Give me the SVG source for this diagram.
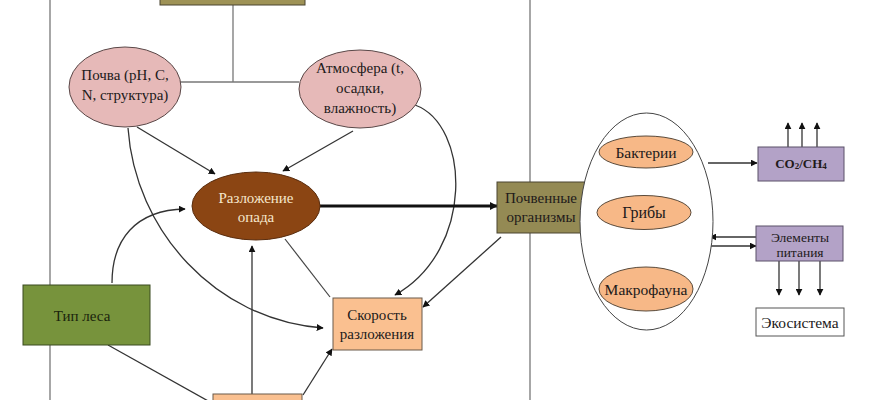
<svg xmlns="http://www.w3.org/2000/svg" width="870" height="400" viewBox="0 0 870 400">
<defs>
<marker id="ah" viewBox="0 0 10 10" refX="9" refY="5" markerWidth="7" markerHeight="7" markerUnits="userSpaceOnUse" orient="auto">
<path d="M0,0 L10,5 L0,10 z" fill="#111"/>
</marker>
<marker id="ahb" viewBox="0 0 10 10" refX="9" refY="5" markerWidth="8" markerHeight="8" markerUnits="userSpaceOnUse" orient="auto">
<path d="M0,0 L10,5 L0,10 z" fill="#111"/>
</marker>
</defs>
<style>
text{font-family:"Liberation Serif","DejaVu Serif",serif;font-size:15px;fill:#221a1a;text-anchor:middle;dominant-baseline:central}
.ln{fill:none;stroke:#777;stroke-width:1.3}
.ar{fill:none;stroke:#333;stroke-width:1.3;marker-end:url(#ah)}
.pink{fill:#E6B9B8;stroke:#5a4848;stroke-width:1}
.peach{fill:#FAC090;stroke:#6a5a4a;stroke-width:1}
.org{fill:#F7B887;stroke:#5a4a3a;stroke-width:1}
.purp{fill:#B3A2C7;stroke:#5a5068;stroke-width:1}
.olive{fill:#948A54;stroke:#4a4530;stroke-width:1}
</style>
<rect width="870" height="400" fill="#fff"/>
<g id="connectors">
<line class="ln" x1="50" y1="0" x2="50" y2="400"/>
<line class="ln" x1="530" y1="0" x2="530" y2="400"/>
<line class="ln" x1="233" y1="5" x2="233" y2="82"/>
<line class="ln" x1="180" y1="82" x2="299" y2="82"/>
<line class="ar" x1="137" y1="127" x2="215" y2="174"/>
<line class="ar" x1="353" y1="131" x2="283" y2="171"/>
<path class="ar" d="M128,128 C135,230 215,320 323,328"/>
<path class="ar" d="M415,105 C470,125 475,250 395,295"/>
<path class="ar" d="M112,283 C112,240 135,210 185,209"/>
<line x1="320" y1="206" x2="497" y2="206" stroke="#111" stroke-width="3" marker-end="url(#ahb)"/>
<line class="ar" x1="252" y1="394" x2="252" y2="246"/>
<line x1="285" y1="239" x2="330" y2="297" stroke="#444" stroke-width="1.2"/>
<line x1="108" y1="345" x2="210" y2="402" stroke="#333" stroke-width="1.3"/>
<line class="ar" x1="303" y1="395" x2="332" y2="349"/>
<line class="ar" x1="501" y1="237" x2="423" y2="307"/>
<line class="ar" x1="708" y1="163" x2="757" y2="163"/>
<line class="ar" x1="788" y1="147" x2="788" y2="123"/>
<line class="ar" x1="802" y1="147" x2="802" y2="123"/>
<line class="ar" x1="817" y1="147" x2="817" y2="123"/>
<line class="ar" x1="756" y1="237" x2="710" y2="237"/>
<line class="ar" x1="710" y1="246" x2="756" y2="246"/>
<line class="ar" x1="779" y1="261" x2="779" y2="295"/>
<line class="ar" x1="799" y1="261" x2="799" y2="295"/>
<line class="ar" x1="820" y1="261" x2="820" y2="295"/>
</g>
<g id="top-box"><rect x="160" y="-5" width="145" height="10" fill="#9E9256" stroke="#4a4530"/></g>
<g id="pochva"><ellipse class="pink" cx="125" cy="87" rx="56" ry="40"/><text x="125" y="75">Почва (pH, C,</text><text x="125" y="95">N, структура)</text></g>
<g id="atmosfera"><ellipse class="pink" cx="360" cy="89" rx="61" ry="39"/><text x="360" y="68">Атмосфера (t,</text><text x="360" y="88">осадки,</text><text x="360" y="108">влажность)</text></g>
<g id="razlozhenie"><ellipse cx="256" cy="206" rx="64" ry="34" fill="#8B4513" stroke="#5a2e10"/><text x="256" y="198" style="fill:#F6E7CC">Разложение</text><text x="256" y="217" style="fill:#F6E7CC">опада</text></g>
<g id="tip-lesa"><rect x="23" y="285" width="127" height="60" fill="#77933C" stroke="#3a4a20"/><text x="82" y="316" style="fill:#1a240c">Тип леса</text></g>
<g id="skorost"><rect class="peach" x="333" y="298" width="89" height="52"/><text x="377" y="315">Скорость</text><text x="377" y="334">разложения</text></g>
<g id="bottom-box"><rect class="peach" x="213" y="394" width="89" height="20"/></g>
<g id="pochvennye"><rect class="olive" x="497" y="182" width="89" height="51"/><text x="541" y="198">Почвенные</text><text x="541" y="217">организмы</text></g>
<g id="organisms"><ellipse cx="646.5" cy="221.5" rx="66.5" ry="108.5" fill="#fff" stroke="#444" stroke-width="1"/></g>
<g id="bakterii"><ellipse class="org" cx="646" cy="152" rx="47" ry="16"/><text x="646" y="152" style="font-size:15.5px">Бактерии</text></g>
<g id="griby"><ellipse class="org" cx="644" cy="212.5" rx="47" ry="17"/><text x="644" y="212" style="font-size:16px">Грибы</text></g>
<g id="makrofauna"><ellipse class="org" cx="646" cy="289" rx="47" ry="22"/><text x="646" y="289" style="font-size:15.5px">Макрофауна</text></g>
<g id="co2"><rect class="purp" x="758" y="147" width="86" height="34"/><text x="801" y="163" style="font-size:13px;font-weight:bold">CO<tspan dy="3" style="font-size:9px">2</tspan><tspan dy="-3">/CH</tspan><tspan dy="3" style="font-size:9px">4</tspan></text></g>
<g id="elementy"><rect class="purp" x="756" y="226" width="87" height="35"/><text x="800" y="237" style="font-size:13.5px">Элементы</text><text x="800" y="252" style="font-size:13.5px">питания</text></g>
<g id="ekosistema"><rect x="756" y="308" width="88" height="28" fill="#fff" stroke="#555"/><text x="800" y="322" style="font-size:15.5px">Экосистема</text></g>
</svg>
